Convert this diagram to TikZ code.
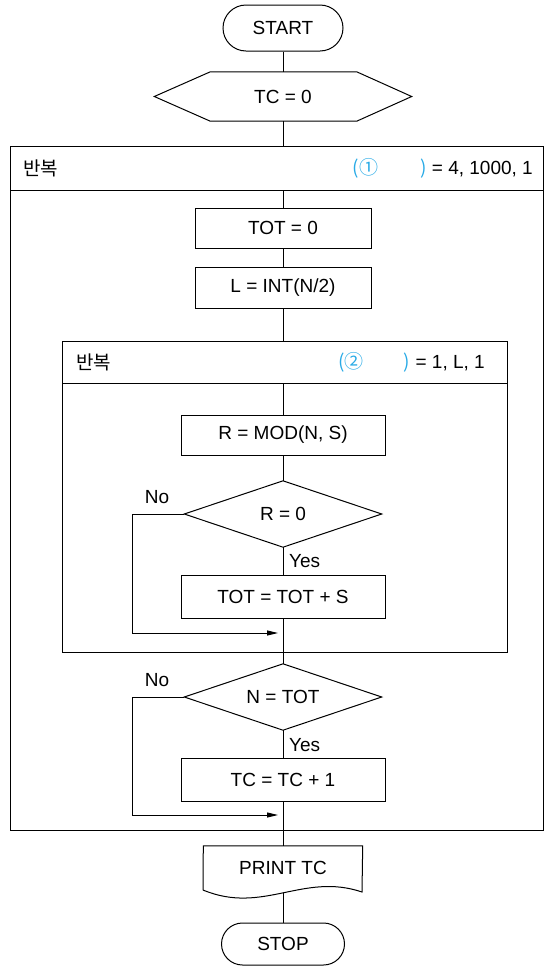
\documentclass[tikz,border=0pt]{standalone}
\usepackage{fontspec}
\setmainfont{Liberation Sans}
\newfontfamily\kr{Noto Sans CJK KR}
\usetikzlibrary{arrows.meta}
\definecolor{qcyan}{RGB}{40,170,230}
\begin{document}
\begin{tikzpicture}[x=1pt,y=-1pt,
  every node/.style={font=\fontsize{19}{22}\selectfont, inner sep=0pt},
  shp/.style={line width=1pt},
  conn/.style={line width=0.9pt},
  arr/.style={line width=0.9pt, -{Triangle[length=11pt,width=5pt]}},
  procbox/.style={draw, line width=1pt, minimum width=#1},
  hangul/.style={font=\kr\fontsize{19}{22}\selectfont}
]
\useasboundingbox (0,0) rectangle (544,967);

% START
\node[draw, shp, rounded corners=23pt, minimum width=120pt, minimum height=46pt] (start) at (283,28) {START};

% TC = 0 hexagon
\node[minimum width=257pt, minimum height=49pt] (tc) at (283,96.5) {TC = 0};
\draw[shp] (tc.west) -- ([xshift=56pt]tc.north west) -- ([xshift=-55pt]tc.north east) -- (tc.east)
  -- ([xshift=-55pt]tc.south east) -- ([xshift=56pt]tc.south west) -- cycle;

% outer loop
\node[draw, shp, anchor=north west, minimum width=533pt, minimum height=684pt] (outer) at (10,146) {};
\node[draw, shp, anchor=north west, minimum width=533pt, minimum height=44pt] (outerh) at (10,146) {};
\node[hangul, anchor=west] (oh1) at (23,168) {반복};
\node[anchor=east] (oh2) at (533,168) {{\kr\color{qcyan}(①\hspace{42pt})} = 4, 1000, 1};

\node[procbox=176pt, minimum height=40pt] (tot0) at (283,228) {TOT = 0};
\node[procbox=176pt, minimum height=41pt] (lint) at (283,287.5) {L = INT(N/2)};

% inner loop
\node[draw, shp, anchor=north west, minimum width=445pt, minimum height=311pt] (inner) at (62,341) {};
\node[draw, shp, anchor=north west, minimum width=445pt, minimum height=42pt] (innerh) at (62,341) {};
\node[hangul, anchor=west] (ih1) at (76,362) {반복};
\node[anchor=east] (ih2) at (485,362) {{\kr\color{qcyan}(②\hspace{40pt})} = 1, L, 1};

\node[procbox=204pt, minimum height=40pt] (rmod) at (283,435) {R = MOD(N, S)};

\node[minimum width=197pt, minimum height=66pt] (d1) at (283,514) {R = 0};
\draw[shp] (d1.west) -- (d1.north) -- (d1.east) -- (d1.south) -- cycle;

\node[procbox=204pt, minimum height=43pt] (tots) at (283,596.5) {TOT = TOT + S};

\node[minimum width=197pt, minimum height=66pt] (d2) at (283,697) {N = TOT};
\draw[shp] (d2.west) -- (d2.north) -- (d2.east) -- (d2.south) -- cycle;

\node[procbox=204pt, minimum height=43pt] (tc1) at (283,779.5) {TC = TC + 1};

% PRINT document
\node[minimum width=159pt, minimum height=44pt] (prt) at (283,868) {PRINT TC};
\draw[shp] (203,890) -- (prt.north west) -- (prt.north east) -- (362,892)
  .. controls (303,872) and (263,915) .. (203,890);
\coordinate (prtb) at (283,893);

% STOP
\node[draw, shp, rounded corners=21pt, minimum width=123pt, minimum height=42pt] (stop) at (283,944) {STOP};

% labels
\node (no1) at (157,497) {No};
\node[anchor=west] (yes1) at (289,561) {Yes};
\node (no2) at (157,680) {No};
\node[anchor=west] (yes2) at (289,745) {Yes};

% connectors
\draw[conn] (start.south) -- (tc.north);
\draw[conn] (tc.south) -- (tc.south |- outerh.north);
\draw[conn] (tot0.north |- outerh.south) -- (tot0.north);
\draw[conn] (tot0.south) -- (lint.north);
\draw[conn] (lint.south) -- (lint.south |- innerh.north);
\draw[conn] (rmod.north |- innerh.south) -- (rmod.north);
\draw[conn] (rmod.south) -- (d1.north);
\draw[conn] (d1.south) -- (tots.north);
\draw[conn] (tots.south) -- (tots.south |- inner.south);
\draw[conn] (d2.north |- inner.south) -- (d2.north);
\draw[conn] (d2.south) -- (tc1.north);
\draw[conn] (tc1.south) -- (tc1.south |- outer.south);
\draw[conn] (prt.north |- outer.south) -- (prt.north);
\draw[conn] (prtb) -- (stop.north);

\coordinate (m1) at (278,633);
\coordinate (m2) at (278,815);
\draw[arr] (d1.west) -- (132,514) -- (132,633) -- (m1);
\draw[arr] (d2.west) -- (132,697) -- (132,815) -- (m2);
\end{tikzpicture}
\end{document}
